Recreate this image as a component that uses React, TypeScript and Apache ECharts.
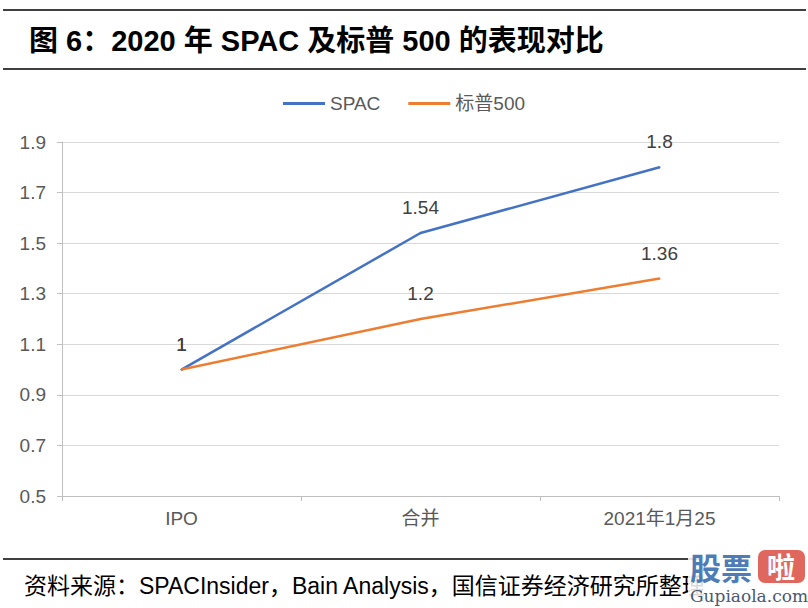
import React, { useEffect, useRef } from "react";
import * as echarts from "echarts";

const categories = ["IPO", "合并", "2021年1月25"];
const spacValues = [1, 1.54, 1.8];
const spxValues = [1, 1.2, 1.36];
const seriesNames = ["SPAC", "标普500"];
const yMin = 0.5;
const yMax = 1.9;
const yStep = 0.2;

const titleText = "图 6：2020 年 SPAC 及标普 500 的表现对比";
const sourceText = "资料来源：SPACInsider，Bain Analysis，国信证券经济研究所整理";

const FONT = "Arial, 'Liberation Sans', 'Noto Sans CJK SC', sans-serif";

export default function App() {
  const ref = useRef<HTMLDivElement>(null);
  useEffect(() => {
    if (!ref.current) return;
    const chart = echarts.init(ref.current, null, { renderer: "svg" });
    const labelStyle = {
      show: true,
      position: "top" as const,
      distance: 15,
      color: "#404040",
      fontSize: 19,
      fontFamily: FONT,
    };
    chart.setOption({
      animation: false,
      backgroundColor: "#ffffff",
      textStyle: { fontFamily: FONT },
      title: {
        text: titleText,
        left: 24,
        top: 21,
        textStyle: {
          fontSize: 29,
          fontWeight: "bold",
          color: "#000000",
          fontFamily: FONT,
        },
      },
      legend: {
        top: 89,
        left: "center",
        itemWidth: 42,
        itemHeight: 3,
        itemGap: 28,
        icon: "rect",
        textStyle: { fontSize: 19, color: "#595959", fontFamily: FONT },
        data: seriesNames,
      },
      grid: { left: 62, right: 29, top: 142, bottom: 112, containLabel: false },
      xAxis: {
        type: "category",
        data: categories,
        boundaryGap: true,
        axisLine: { lineStyle: { color: "#bfbfbf", width: 1 } },
        axisTick: { show: true, length: 5, lineStyle: { color: "#bfbfbf" } },
        axisLabel: { fontSize: 19, color: "#595959", margin: 13, fontFamily: FONT },
      },
      yAxis: {
        type: "value",
        min: yMin,
        max: yMax,
        interval: yStep,
        axisLine: { show: true, lineStyle: { color: "#bfbfbf", width: 1 } },
        axisTick: { show: true, length: 5, lineStyle: { color: "#bfbfbf" } },
        axisLabel: {
          fontSize: 19,
          color: "#595959",
          margin: 16,
          fontFamily: FONT,
          formatter: (v: number) => v.toFixed(1),
        },
        splitLine: { lineStyle: { color: "#d9d9d9", width: 1 } },
      },
      series: [
        {
          name: seriesNames[0],
          type: "line",
          data: spacValues,
          symbol: "circle",
          symbolSize: 2,
          showSymbol: true,
          itemStyle: { color: "#4472c4" },
          color: "#4472c4",
          lineStyle: { width: 2.5, color: "#4472c4" },
          label: labelStyle,
          labelLayout: { hideOverlap: false },
        },
        {
          name: seriesNames[1],
          type: "line",
          data: spxValues,
          symbol: "circle",
          symbolSize: 2,
          showSymbol: true,
          itemStyle: { color: "#ed7d31" },
          color: "#ed7d31",
          lineStyle: { width: 2.5, color: "#ed7d31" },
          label: labelStyle,
          labelLayout: { hideOverlap: false },
        },
      ],
      graphic: [
        {
          type: "line",
          shape: { x1: 3, y1: 10, x2: 806, y2: 10 },
          style: { stroke: "#000", lineWidth: 1.5 },
        },
        {
          type: "line",
          shape: { x1: 3, y1: 69, x2: 806, y2: 69 },
          style: { stroke: "#000", lineWidth: 1.5 },
        },
        {
          type: "line",
          shape: { x1: 3, y1: 559, x2: 700, y2: 559 },
          style: { stroke: "#000", lineWidth: 1.5 },
        },
        {
          type: "text",
          x: 24,
          y: 586,
          style: {
            text: sourceText,
            font: "23px " + FONT,
            fill: "#000",
            textVerticalAlign: "middle",
          },
        },
        {
          type: "rect",
          shape: { x: 688, y: 548, width: 120, height: 60 },
          style: { fill: "#ffffff", opacity: 0.85 },
        },
        {
          type: "text",
          x: 690,
          y: 566,
          style: {
            text: "股票",
            font: "bold 31px 'Noto Sans CJK SC', sans-serif",
            fill: "#3b6fb0",
            textVerticalAlign: "middle",
            opacity: 0.92,
          },
        },
        {
          type: "rect",
          shape: { x: 758, y: 550, width: 47, height: 33, r: 7 },
          style: { fill: "#dd5a4f", opacity: 0.92 },
        },
        {
          type: "text",
          x: 781,
          y: 566,
          style: {
            text: "啦",
            font: "bold 28px 'Noto Sans CJK SC', sans-serif",
            fill: "#ffffff",
            textAlign: "center",
            textVerticalAlign: "middle",
          },
        },
        {
          type: "text",
          x: 749,
          y: 596,
          style: {
            text: "Gupiaola.com",
            font: "17px 'DejaVu Serif', 'Liberation Serif', serif",
            fill: "#4a5870",
            textAlign: "center",
            textVerticalAlign: "middle",
          },
        },
      ],
    });
    return () => chart.dispose();
  }, []);
  return (
    <div
      ref={ref}
      style={{ position: "absolute", left: 0, top: 0, width: 808, height: 608 }}
    />
  );
}
